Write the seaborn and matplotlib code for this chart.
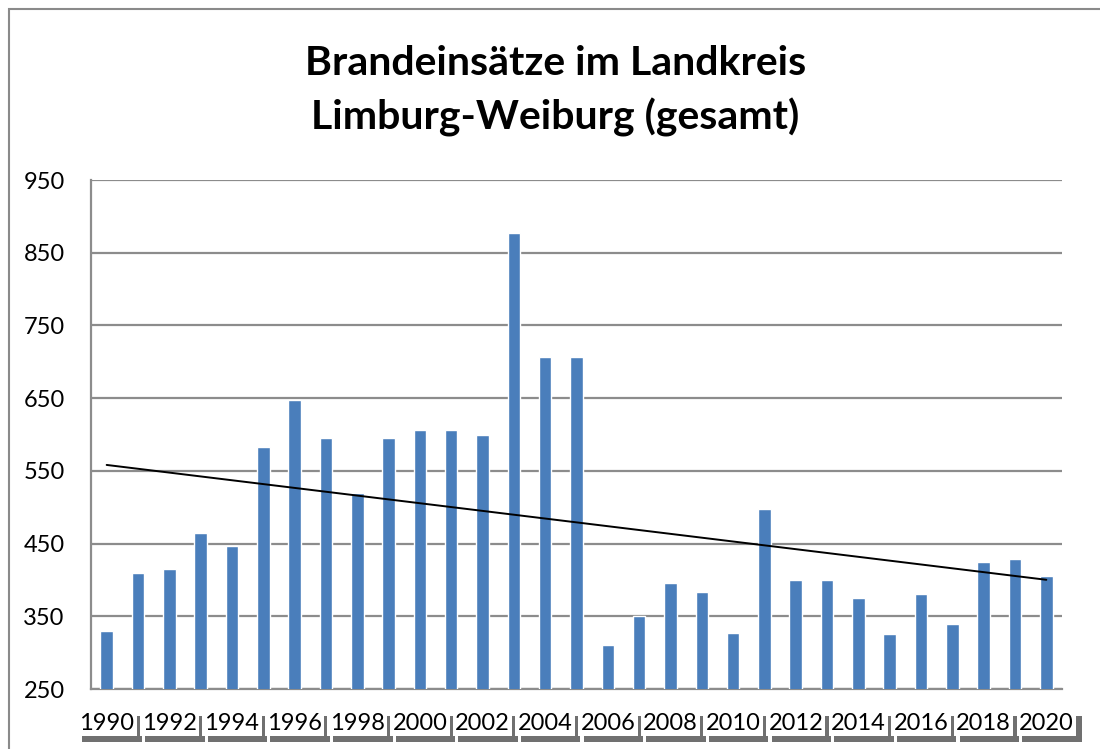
import numpy as np
import pandas as pd
import matplotlib
matplotlib.use("Agg")
import matplotlib.pyplot as plt
import matplotlib.patheffects as pe
from matplotlib.patches import Rectangle
import seaborn as sns

years = list(range(1990, 2021))
einsaetze = [330, 410, 415, 465, 447, 583, 648, 595, 520, 595, 606,
             606, 600, 877, 706, 706, 310, 350, 396, 383, 327,
             498, 400, 400, 375, 325, 381, 340, 425, 429, 406]
y_ticks = [250, 350, 450, 550, 650, 750, 850, 950]
title = "Brandeinsätze im Landkreis\nLimburg-Weiburg (gesamt)"

bar_color = "#4A7EBB"
grid_color = "#8C8C8C"

sns.set_theme(style="white")
plt.rcParams['font.family'] = ['Lato', 'DejaVu Sans']

df = pd.DataFrame({"Jahr": [str(y) for y in years], "Einsaetze": einsaetze})

fig = plt.figure(figsize=(11, 7.49), dpi=100)
ax = fig.add_axes([91/1100, 1 - 689/749, (1062-91)/1100, (689-180)/749])

sns.barplot(data=df, x="Jahr", y="Einsaetze", color=bar_color, saturation=1,
            width=0.4, ax=ax, zorder=3)

# linear trend line
xi = np.arange(len(years))
coef = np.polyfit(xi, einsaetze, 1)
ax.plot([xi[0], xi[-1]], np.polyval(coef, [xi[0], xi[-1]]), color="black",
        lw=1.4, zorder=4)

ax.set_xlim(-0.5, len(years) - 0.5)
ax.set_ylim(250, 950)
ax.set_yticks(y_ticks)
ax.set_yticklabels([str(v) for v in y_ticks], fontsize=17, color="black")
ax.yaxis.grid(True, color=grid_color, lw=1.6, zorder=0)
ax.set_axisbelow(True)

even_idx = list(range(0, len(years), 2))
ax.set_xticks(even_idx)
ax.set_xticklabels([str(years[i]) for i in even_idx], fontsize=17, color="black")
ax.tick_params(axis='x', length=0, pad=17)
ax.tick_params(axis='y', length=0, pad=19)
ax.set_xlabel("")
ax.set_ylabel("")

for s in ["top", "right"]:
    ax.spines[s].set_visible(False)
for s in ["left", "bottom"]:
    ax.spines[s].set_color(grid_color)
    ax.spines[s].set_linewidth(1.6)

for lbl in ax.get_xticklabels():
    lbl.set_bbox(dict(boxstyle="square,pad=0.1", facecolor="white", edgecolor="none"))
    lbl.get_bbox_patch().set_path_effects([
        pe.withSimplePatchShadow(offset=(4, -4), shadow_rgbFace="#333333", alpha=0.7)])

fig.text(0.505, 1 - 91/749, title, ha="center", va="center", fontsize=29.5,
         fontweight="bold", linespacing=1.5, color="black")

# chart frame
top = 1 - 9/749
fig.patches.append(Rectangle((9/1100, -0.2), 1.5, top + 0.2,
                             transform=fig.transFigure, fill=False,
                             edgecolor="#8A8A8A", lw=1.5))

fig.savefig("out.png", dpi=100)
